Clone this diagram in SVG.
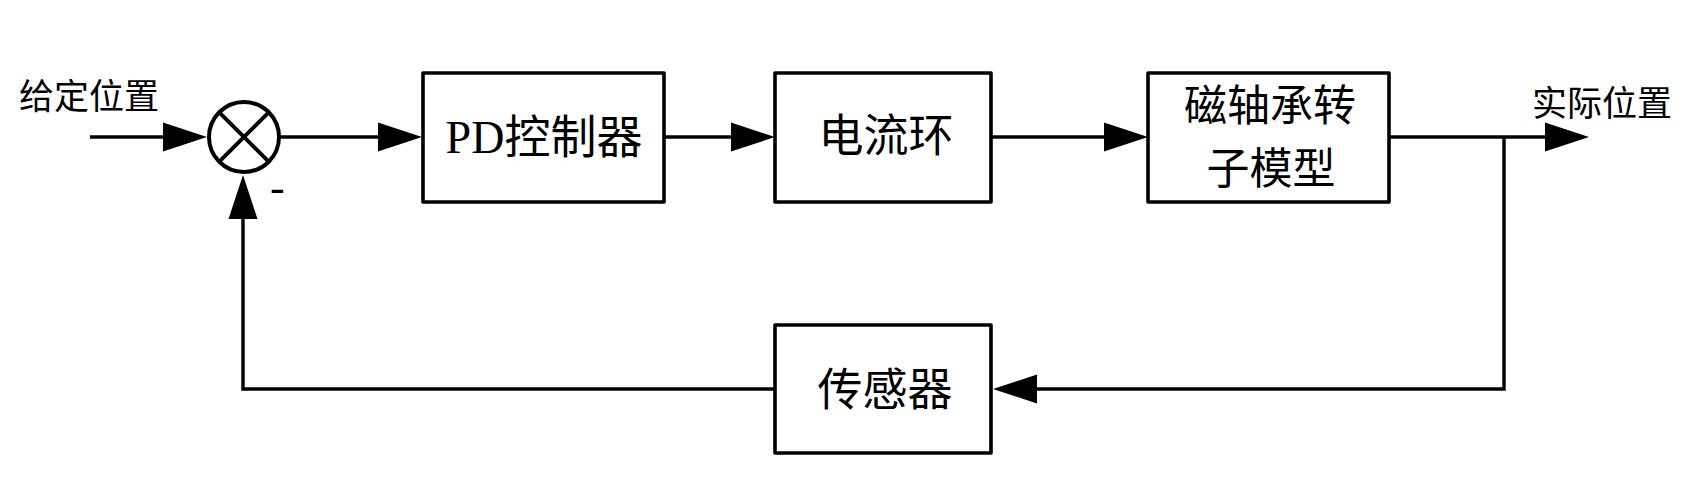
<svg xmlns="http://www.w3.org/2000/svg" width="1700" height="500" viewBox="0 0 1700 500">
<style>
.box{fill:#fff;stroke:#000;stroke-width:3.6;stroke-linejoin:round}
.ln{fill:none;stroke:#000;stroke-width:3.4;stroke-linejoin:miter}
.t{font-family:"Liberation Serif","Noto Sans CJK SC",serif;fill:#000}
.cn{font-family:"Noto Sans CJK SC","Liberation Serif",sans-serif;fill:#000}
</style>
<defs>
<marker id="arr" markerUnits="userSpaceOnUse" markerWidth="46" markerHeight="30" refX="0" refY="14.5" orient="auto" overflow="visible">
<path d="M0,0 L44,14.5 L0,29 Z" fill="#000"/>
</marker>
</defs>
<rect width="1700" height="500" fill="#fff"/>
<g id="connectors">
<path class="ln" d="M90,137 H163" marker-end="url(#arr)"/>
<path class="ln" d="M280,137 H378" marker-end="url(#arr)"/>
<path class="ln" d="M664,137 H731" marker-end="url(#arr)"/>
<path class="ln" d="M991,137 H1104" marker-end="url(#arr)"/>
<path class="ln" d="M1389,137 H1545" marker-end="url(#arr)"/>
<path class="ln" d="M1504,137 V389 H1037" marker-end="url(#arr)"/>
<path class="ln" d="M775,389 H243 V219" marker-end="url(#arr)"/>
</g>
<g id="sum">
<circle cx="244" cy="137" r="35" fill="#fff" stroke="#000" stroke-width="4"/>
<path d="M219.3,112.3 L268.7,161.7 M268.7,112.3 L219.3,161.7" stroke="#000" stroke-width="4" fill="none"/>
<text class="t" x="270" y="202" font-size="44">-</text>
</g>
<g id="input-label">
<text class="cn" x="19" y="109" font-size="35">给定位置</text>
</g>
<g id="output-label">
<text class="cn" x="1532" y="116" font-size="35">实际位置</text>
</g>
<g id="pd">
<rect class="box" x="423" y="73" width="241" height="129"/>
<text class="t" x="544" y="153" font-size="46" text-anchor="middle">PD<tspan class="cn">控制器</tspan></text>
</g>
<g id="current">
<rect class="box" x="775" y="73" width="216" height="129"/>
<text class="cn" x="886" y="152" font-size="45" text-anchor="middle">电流环</text>
</g>
<g id="rotor">
<rect class="box" x="1148" y="73" width="241" height="129"/>
<text class="cn" font-size="43" text-anchor="middle"><tspan x="1270" y="121">磁轴承转</tspan><tspan x="1271" y="184">子模型</tspan></text>
</g>
<g id="sensor">
<rect class="box" x="775" y="325" width="216" height="128"/>
<text class="cn" x="885" y="406" font-size="45" text-anchor="middle">传感器</text>
</g>
</svg>
